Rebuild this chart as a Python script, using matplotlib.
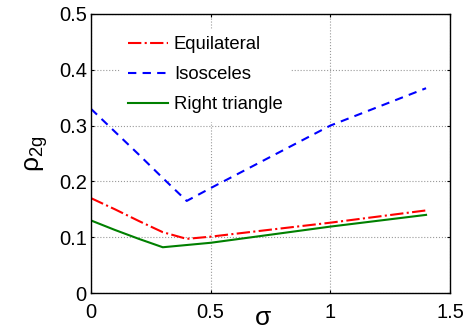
import numpy as np
import matplotlib
matplotlib.use('Agg')
import matplotlib.pyplot as plt

plt.rcParams['font.family'] = ['Liberation Sans', 'DejaVu Sans']
plt.rcParams['mathtext.fontset'] = 'custom'
plt.rcParams['mathtext.rm'] = 'Liberation Sans'
plt.rcParams['mathtext.it'] = 'Liberation Sans'

# data
sigma = [0, 0.1, 0.2, 0.3, 0.4, 0.5, 1.0, 1.4]
equilateral = [0.170, 0.150, 0.129, 0.109, 0.097, 0.101, 0.126, 0.148]
isosceles = [0.330, 0.289, 0.248, 0.206, 0.165, 0.188, 0.300, 0.367]
right_tri = [0.130, 0.113, 0.097, 0.082, 0.086, 0.090, 0.119, 0.140]

fig = plt.figure(figsize=(4.7, 3.33), dpi=100)
ax = fig.add_axes([0.1936, 0.1201, 0.7638, 0.8379])

ax.plot(sigma, equilateral, color='red', ls='-.', lw=1.5, label='Equilateral')
ax.plot(sigma, isosceles, color='blue', ls=(0, (4, 3)), lw=1.5, label='Isosceles')
ax.plot(sigma, right_tri, color='green', ls='-', lw=1.5, label='Right triangle')

ax.set_xlim(0, 1.5)
ax.set_ylim(0, 0.5)
ax.set_xticks([0, 0.5, 1, 1.5])
ax.set_xticklabels(['0', '0.5', '1', '1.5'])
ax.set_yticks([0, 0.1, 0.2, 0.3, 0.4, 0.5])
ax.set_yticklabels(['0', '0.1', '0.2', '0.3', '0.4', '0.5'])
ax.tick_params(direction='in', length=2, labelsize=14.5, top=True, right=True)
ax.tick_params(axis='x', pad=7)
ax.tick_params(axis='y', pad=3)
ax.grid(True, ls=':', color='#999999', lw=0.8)
for s in ax.spines.values():
    s.set_linewidth(1.0)

ax.set_xlabel(r'$\sigma$', fontsize=19)
ax.xaxis.set_label_coords(0.48, -0.045, transform=ax.transAxes)
ax.xaxis.label.set_va('top')
ax.set_ylabel(r'$\rho_{2g}$', fontsize=19, labelpad=6)

leg = ax.legend(loc='upper left', bbox_to_anchor=(0.082, 0.946), fontsize=13.3,
                frameon=True, fancybox=False, edgecolor='white', framealpha=1,
                handlelength=2.2, handletextpad=0.3, labelspacing=0.7,
                borderaxespad=0)

plt.savefig('out.png', dpi=100)
